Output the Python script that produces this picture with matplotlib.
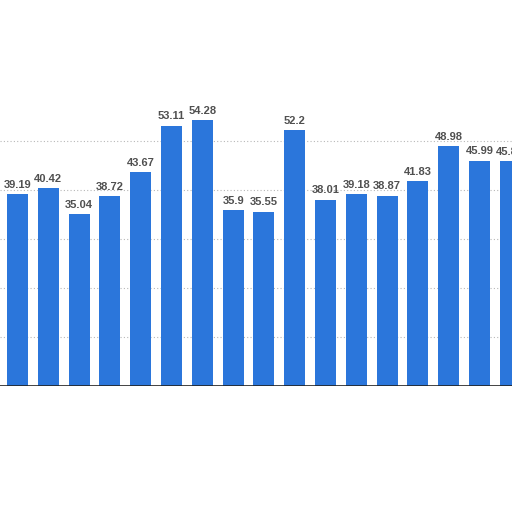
import matplotlib
matplotlib.use('Agg')
import matplotlib.pyplot as plt
import numpy as np

# values (left to right); 15th label is hidden, 17th is cut off
values = [39.19, 40.42, 35.04, 38.72, 43.67, 53.11, 54.28, 35.9, 35.55,
          52.2, 38.01, 39.18, 38.87, 41.83, 48.98, 45.99, 45.87]
labels = ['39.19', '40.42', '35.04', '38.72', '43.67', '53.11', '54.28', '35.9', '35.55',
          '52.2', '38.01', '39.18', '38.87', '41.83', '48.98', '45.99', '45.87']
grid_values = [10, 20, 30, 40, 50]

bar_color = '#2b76db'
label_color = '#505050'

fig = plt.figure(figsize=(5.12, 5.12), dpi=100)
ax = fig.add_axes([0, 126 / 512, 1, 386 / 512])

x = np.arange(len(values))
ax.bar(x, values, width=0.68, color=bar_color, zorder=3)

for xi, v, lab in zip(x, values, labels):
    ax.text(xi, v + 0.9, lab, ha='center', va='bottom', fontsize=8,
            fontweight='bold', color=label_color, family='Liberation Sans', zorder=4)

ax.set_xlim(-0.568, 16.055)
ax.set_ylim(0, 386 / 4.9)

for g in grid_values:
    ax.axhline(g, color='#b8b8b8', lw=0.8, ls=(0, (1, 2)), zorder=1)

ax.axhline(0, color='#222222', lw=1.2, zorder=5)

for s in ax.spines.values():
    s.set_visible(False)
ax.set_xticks([])
ax.set_yticks([])

plt.savefig('out.png', dpi=100)
